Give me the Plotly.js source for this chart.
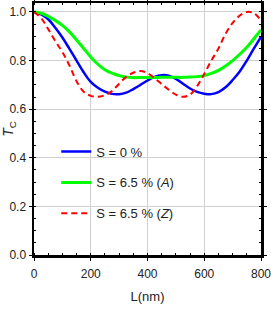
<!DOCTYPE html>
<html><head><meta charset="utf-8">
<script src="https://cdn.plot.ly/plotly-3.0.1.min.js"></script>
<style>html,body{margin:0;padding:0;background:#fff}#c{width:271px;height:314px}</style>
</head><body><div id="c"></div>
<script>
const L = [0,25,50,75,100,125,150,175,200,225,250,275,300,325,350,375,400,425,450,475,500,525,550,575,600,625,650,675,700,725,750,775,800];
const tcS0 = [1.0,0.99,0.97,0.935,0.895,0.848,0.80,0.752,0.712,0.688,0.672,0.663,0.662,0.668,0.683,0.700,0.718,0.733,0.740,0.738,0.725,0.705,0.685,0.671,0.664,0.662,0.670,0.690,0.720,0.755,0.800,0.850,0.898];
const tcA = [1.0,0.995,0.982,0.965,0.945,0.918,0.885,0.850,0.815,0.785,0.762,0.748,0.738,0.732,0.730,0.730,0.730,0.730,0.731,0.731,0.731,0.731,0.732,0.734,0.738,0.747,0.760,0.778,0.800,0.826,0.855,0.890,0.926];
const tcZ = [1.0,0.975,0.93,0.88,0.835,0.78,0.715,0.672,0.655,0.651,0.658,0.675,0.705,0.733,0.750,0.757,0.748,0.728,0.703,0.680,0.660,0.651,0.660,0.695,0.745,0.800,0.850,0.910,0.955,0.985,1.0,0.995,0.965];
const names = ["S = 0 %","S = 6.5 % (<i>A</i>)","S = 6.5 % (<i>Z</i>)"];
const xTicks = [0,200,400,600,800];
const yTicks = [0.0,0.2,0.4,0.6,0.8,1.0];
const yTickText = ["0.0","0.2","0.4","0.6","0.8","1.0"];

const F = "Liberation Sans, Arial, sans-serif";
const traces = [
  {x:L, y:tcS0, name:names[0], mode:"lines", line:{color:"#0000ff", width:2.5, shape:"spline"}, legendgroup:"a"},
  {x:L, y:tcA, name:names[1], mode:"lines", line:{color:"#00ff00", width:3, shape:"spline"}, legendgroup:"b"},
  {x:L, y:tcZ, name:names[2], mode:"lines", line:{color:"#ff0000", width:2, dash:"6px,4px", shape:"spline"}, legendgroup:"c"}
];
const axisCommon = {showline:true, linecolor:"#000", linewidth:2.5, mirror:"ticks", ticks:"outside", ticklen:3, tickcolor:"#000",
  gridcolor:"#d0d0d0", gridwidth:1, zeroline:false, ticklabeloverflow:"allow", tickfont:{family:F, size:12, color:"#222"}};
const layout = {
  width:271, height:314, margin:{l:34, r:10, t:3, b:59},
  paper_bgcolor:"#fff", plot_bgcolor:"#fff",
  font:{family:F, color:"#222"},
  showlegend:true,
  legend:{x:0.098, y:0.47, xanchor:"left", yanchor:"top", bgcolor:"rgba(0,0,0,0)", font:{family:F, size:13, color:"#222"},
          itemwidth:30, tracegroupgap:11, traceorder:"grouped"},
  xaxis:Object.assign({}, axisCommon, {range:[0,800], tickvals:xTicks, ticktext:xTicks.map(String), ticklabelstandoff:3,
    minor:{dtick:50, ticks:"inside", ticklen:2, tickcolor:"#000", showgrid:false},
    title:{text:"L(nm)", font:{family:F, size:13, color:"#222"}, standoff:12}}),
  yaxis:Object.assign({}, axisCommon, {range:[0,1.037], tickvals:yTicks, ticktext:yTickText,
    minor:{dtick:0.05, ticks:"inside", ticklen:2, tickcolor:"#000", showgrid:false},
    title:{text:"<i>T</i><sub>C</sub>", font:{family:F, size:14, color:"#222"}, standoff:6}})
};
Plotly.newPlot("c", traces, layout, {staticPlot:true, displayModeBar:false});
</script></body></html>
